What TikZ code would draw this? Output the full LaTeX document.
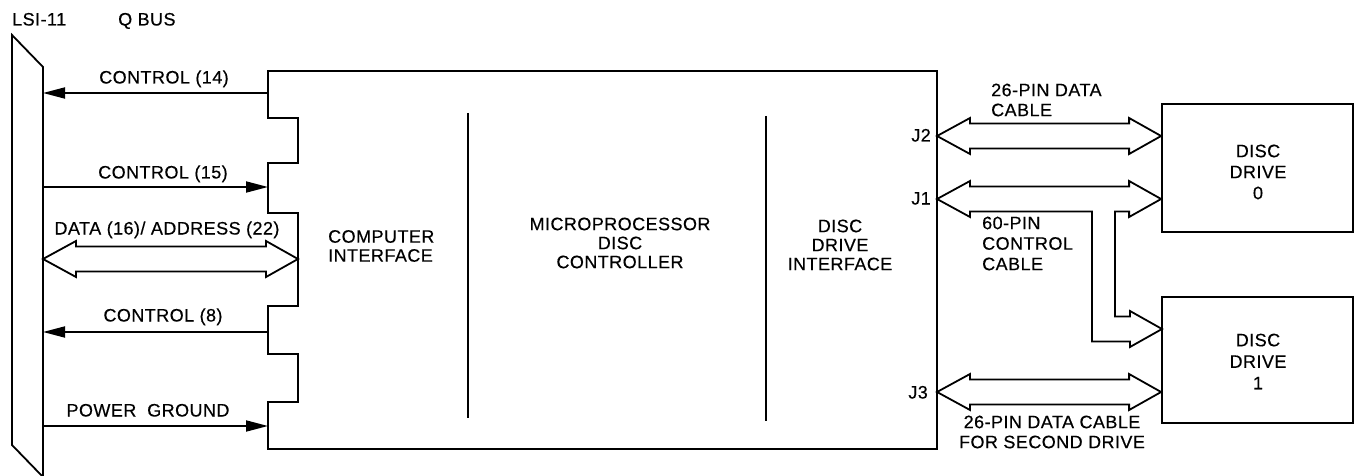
\documentclass[tikz,border=0pt]{standalone}
\usepackage{fontspec}
\setmainfont{Liberation Sans}[LetterSpace=2.5,FakeBold=0.4]
\usetikzlibrary{calc,arrows.meta}

% hollow two-headed cable between two tips at the same height
\newcommand\hollowcable[2]{%
  \draw[cable] (#1) -- ($(#1)+(33,-18)$) -- ($(#1)+(33,-12.5)$)
    -- ($(#2)+(-32,-12.5)$) -- ($(#2)+(-32,-18)$) -- (#2)
    -- ($(#2)+(-32,18)$) -- ($(#2)+(-32,12.5)$)
    -- ($(#1)+(33,12.5)$) -- ($(#1)+(33,18)$) -- cycle;}

\tikzset{
  wire/.style={line width=1.8pt, line join=miter},
  sig/.style={line width=1.8pt, -{Triangle[length=22pt,width=11pt]}},
  cable/.style={line width=1.8pt, line join=miter},
  lbl/.style={font=\fontsize{18}{20}\selectfont, inner sep=0pt},
  drivebox/.style={draw, line width=1.8pt, minimum width=191pt, minimum height=#1, inner sep=0pt},
}

\begin{document}
\begin{tikzpicture}[x=1pt,y=-1pt]
\useasboundingbox (0,0) rectangle (1361,476);

% LSI-11 Q bus backplane
\draw[wire] (12,35) -- (43,67) -- (43,477) -- (12,445) -- cycle;

% controller board with its edge-connector fingers
\draw[wire] (268,71) -- (937,71) -- (937,449) -- (268,449)
  -- (268,402) -- (298,402) -- (298,354) -- (268,354)
  -- (268,306) -- (298,306) -- (298,213) -- (268,213)
  -- (268,163) -- (298,163) -- (298,118) -- (268,118) -- cycle;
\draw[wire] (468,113) -- (468,418);
\draw[wire] (766,116) -- (766,421);

% disc drives
\node[drivebox=128pt] (d0) at (1257.5,168) {};
\node[drivebox=126pt] (d1) at (1257.5,360) {};

% bus side and board side connection points
\coordinate (b14) at (43,93);   \coordinate (c14) at (268,93);
\coordinate (b15) at (43,187);  \coordinate (c15) at (268,187);
\coordinate (bD)  at (43,259);  \coordinate (cD)  at (298,259);
\coordinate (b8)  at (43,332);  \coordinate (c8)  at (268,332);
\coordinate (bP)  at (43,426);  \coordinate (cP)  at (268,426);

% drive side connectors
\coordinate (j2) at (937,136);  \coordinate (d0a) at (d0.west |- j2);
\coordinate (j1) at (937,199);  \coordinate (d0b) at (d0.west |- j1);
\coordinate (j3) at (937,392);  \coordinate (d1b) at (d1.west |- j3);
\coordinate (d1a) at (1162,329);

% bus signals
\draw[sig] (c14) -- (b14);
\draw[sig] (b15) -- (c15);
\draw[sig] (c8) -- (b8);
\draw[sig] (bP) -- (cP);
\hollowcable{bD}{cD}

% data cables
\hollowcable{j2}{d0a}
\hollowcable{j3}{d1b}

% control cable, daisy-chained to both drives
\draw[cable] (j1) -- ($(j1)+(33,-18)$) -- ($(j1)+(33,-12.5)$)
  -- ($(d0b)+(-32,-12.5)$) -- ($(d0b)+(-32,-18)$) -- (d0b)
  -- ($(d0b)+(-32,18)$) -- ($(d0b)+(-32,12.5)$)
  -- (1115,211.5) -- (1115,316.5)
  -- ($(d1a)+(-32,-12.5)$) -- ($(d1a)+(-32,-18)$) -- (d1a)
  -- ($(d1a)+(-32,18)$) -- ($(d1a)+(-32,12.5)$)
  -- (1092,341.5) -- (1092,211.5)
  -- ($(j1)+(33,12.5)$) -- ($(j1)+(33,18)$) -- cycle;

% labels
\node[lbl, anchor=base west] (lsi) at (12,25.5) {LSI-11};
\node[lbl, anchor=base west] (qbus) at (118,25.5) {Q BUS};
\node[lbl, anchor=base] (l14) at (164,83.5) {CONTROL (14)};
\node[lbl, anchor=base] (l15) at (163,178.5) {CONTROL (15)};
\node[lbl, anchor=base] (lD) at (167,234.5) {DATA (16)/ ADDRESS (22)};
\node[lbl, anchor=base] (l8) at (163,321.5) {CONTROL (8)};
\node[lbl, anchor=base] (lP) at (148,416.5) {POWER\ \ GROUND};

\node[lbl, anchor=west, align=left, font=\fontsize{18}{19}\selectfont] (ci) at (328,246) {COMPUTER\\INTERFACE};
\node[lbl, align=center, font=\fontsize{18}{19}\selectfont] (mp) at (620,243) {MICROPROCESSOR\\DISC\\CONTROLLER};
\node[lbl, align=center, font=\fontsize{18}{19}\selectfont] (di) at (840,245) {DISC\\DRIVE\\INTERFACE};

\node[lbl, anchor=base east] (lj2) at (931,141.5) {J2};
\node[lbl, anchor=base east] (lj1) at (931,204.5) {J1};
\node[lbl, anchor=base east] (lj3) at (928,398.5) {J3};

\node[lbl, anchor=west, align=left] (c26a) at (991,100) {26-PIN DATA\\CABLE};
\node[lbl, anchor=west, align=left, font=\fontsize{18}{20.5}\selectfont] (c60) at (982,243.5) {60-PIN\\CONTROL\\CABLE};
\node[lbl, align=center] (c26b) at (1052,432) {26-PIN DATA CABLE\\FOR SECOND DRIVE};

\node[lbl, align=center, font=\fontsize{18}{21}\selectfont] (t0) at (1258,172) {DISC\\DRIVE\\0};
\node[lbl, align=center, font=\fontsize{18}{21.5}\selectfont] (t1) at (1258,361.5) {DISC\\DRIVE\\1};
\end{tikzpicture}
\end{document}
